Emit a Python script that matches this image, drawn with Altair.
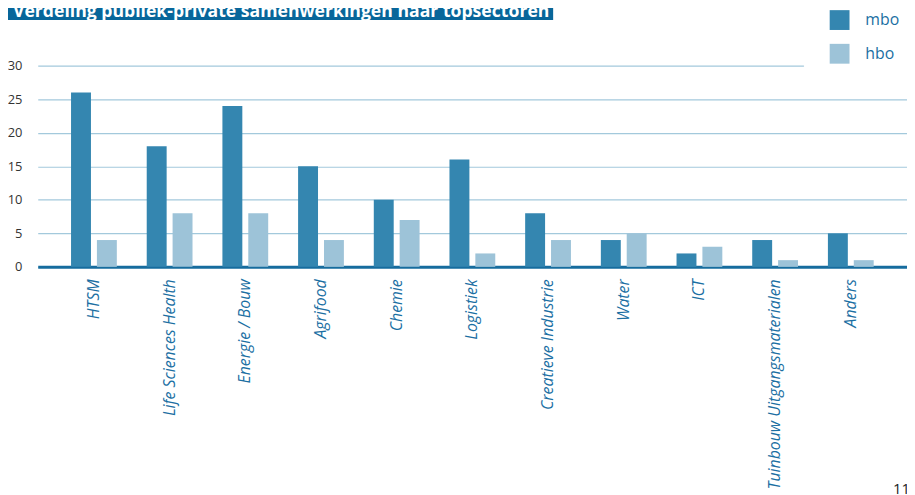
import altair as alt
import pandas as pd

categories = ["HTSM", "Life Sciences Health", "Energie / Bouw", "Agrifood", "Chemie",
              "Logistiek", "Creatieve Industrie", "Water", "ICT",
              "Tuinbouw Uitgangsmaterialen", "Anders"]
mbo = [26, 18, 24, 15, 10, 16, 8, 4, 2, 4, 5]
hbo = [4, 8, 8, 4, 7, 2, 4, 5, 3, 1, 1]
series = ["mbo", "hbo"]
colors = ["#3486b0", "#9dc3d8"]
y_ticks = [0, 5, 10, 15, 20, 25, 30]
title_text = "Verdeling publiek-private samenwerkingen naar topsectoren"
page_no = "11"

rows = []
for c, m, h in zip(categories, mbo, hbo):
    rows.append({"sector": c, "niveau": "mbo", "aantal": m})
    rows.append({"sector": c, "niveau": "hbo", "aantal": h})
df = pd.DataFrame(rows)

W, H = 877, 203

bars = alt.Chart(df).mark_bar().encode(
    x=alt.X("sector:N", sort=categories,
            scale=alt.Scale(paddingInner=0.395, paddingOuter=0.44),
            axis=alt.Axis(title=None, labelAngle=-90, labelAlign="right", labelBaseline="middle",
                          labelFont="Open Sans", labelFontStyle="italic", labelFontSize=16,
                          labelColor="#1b6fa3", labelPadding=12, ticks=False,
                          domainColor="#166c9e", domainWidth=3, grid=False, labelLimit=400)),
    xOffset=alt.XOffset("niveau:N", sort=series, scale=alt.Scale(paddingInner=0.23)),
    y=alt.Y("aantal:Q", scale=alt.Scale(domain=[0, 30], nice=False),
            axis=alt.Axis(title=None, values=y_ticks, ticks=False, domain=False,
                          labelFont="Open Sans", labelFontSize=13, labelColor="#333333",
                          labelPadding=16, gridColor="#a3c9dc", gridWidth=1.2)),
    color=alt.Color("niveau:N", sort=series,
                    scale=alt.Scale(domain=series, range=colors),
                    legend=alt.Legend(title=None, orient="none", legendX=773, legendY=-82,
                                      padding=26, fillColor="white", strokeColor="white",
                                      symbolType="square", symbolSize=400, symbolStrokeWidth=0,
                                      symbolOpacity=1, labelFont="Open Sans", labelFontSize=16,
                                      labelColor="#1b6fa3", labelOffset=16, rowPadding=14)),
)

tdf = pd.DataFrame({"t": [title_text]})
banner = alt.Chart(tdf).mark_rect(color="#08669a").encode(
    x=alt.value(-30), x2=alt.value(520), y=alt.value(-70), y2=alt.value(-46))
banner_text = alt.Chart(tdf).mark_text(
    align="left", baseline="alphabetic", font="Open Sans", fontWeight="bold",
    fontSize=17.8, color="white").encode(
    text="t:N", x=alt.value(-25), y=alt.value(-49))

pdf = pd.DataFrame({"p": [page_no]})
page = alt.Chart(pdf).mark_text(align="left", baseline="alphabetic", font="Open Sans",
                                fontSize=15, color="#222222").encode(
    text="p:N", x=alt.value(863), y=alt.value(432))

chart = alt.layer(bars, banner, banner_text, page).properties(
    width=W, height=H,
    autosize=alt.AutoSizeParams(type="none"),
    padding={"left": 30, "top": 56, "right": 0, "bottom": 228},
).configure_view(stroke=None).configure_axis(labelFontWeight="normal")

chart.save("out.html", embed_options={"renderer": "svg", "actions": False})
